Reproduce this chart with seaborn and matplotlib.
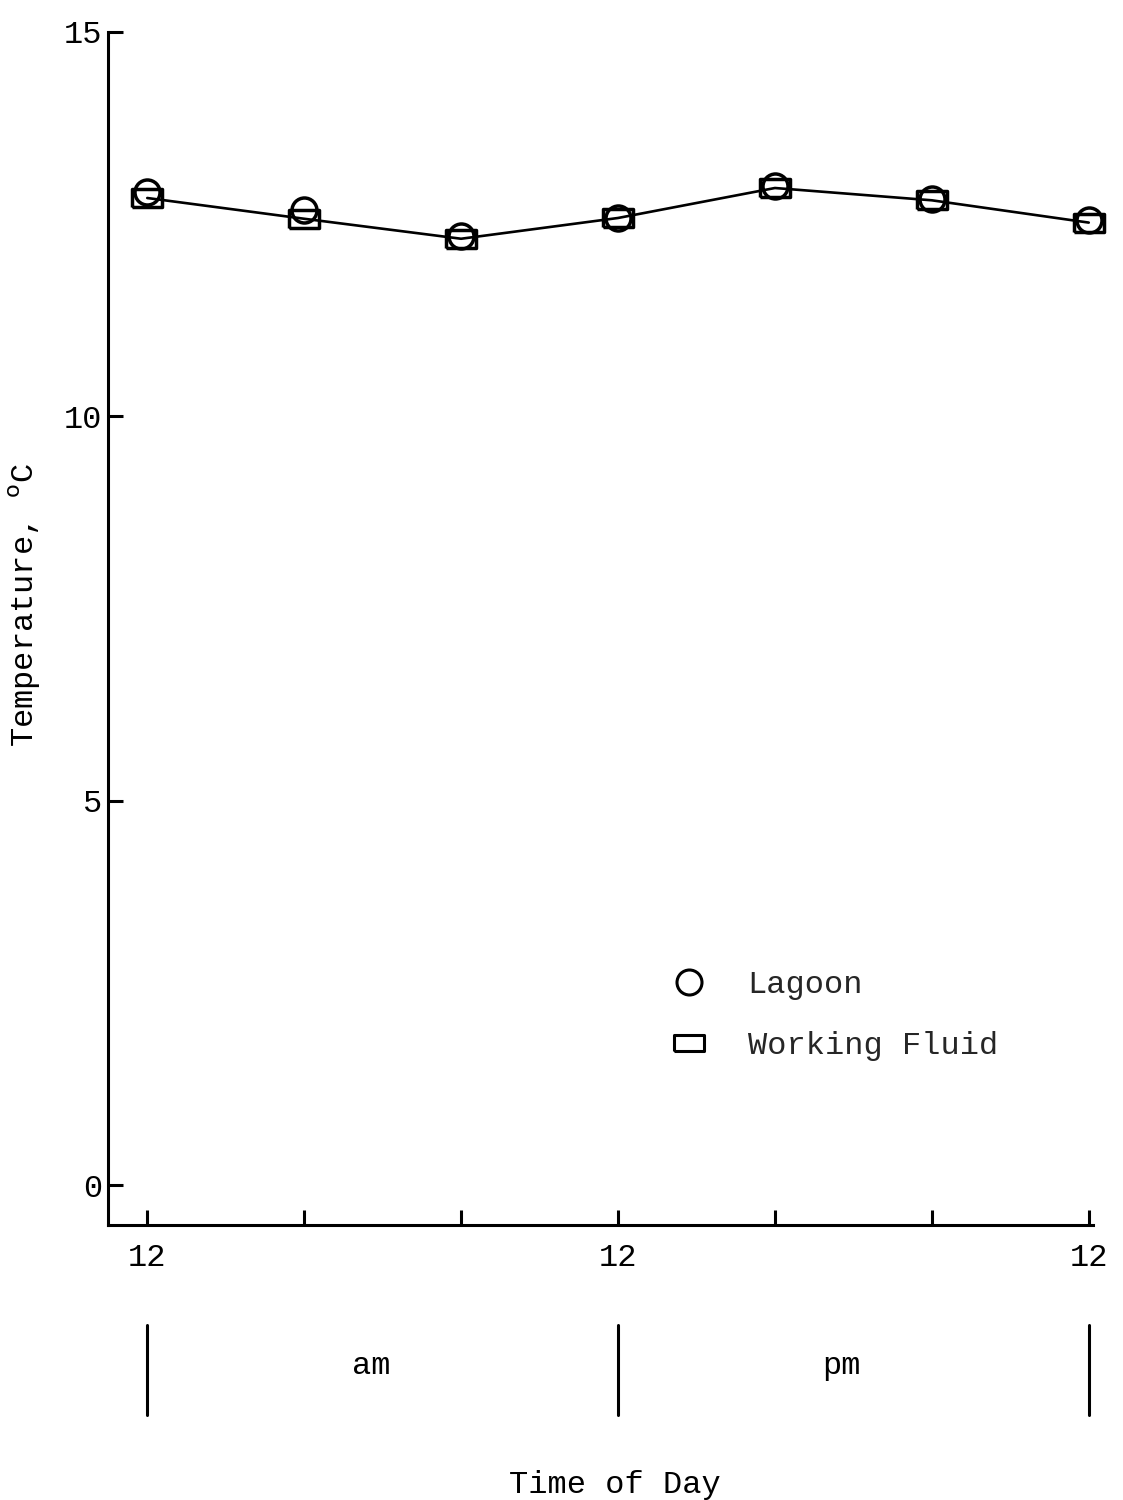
import matplotlib
matplotlib.use("Agg")
import matplotlib.pyplot as plt
import matplotlib.transforms as mtransforms
import seaborn as sns
import pandas as pd
import numpy as np

# Data (hours after midnight)
hours = [0, 4, 8, 12, 16, 20, 24]
lagoon = [12.92, 12.69, 12.34, 12.58, 12.99, 12.83, 12.56]
working_fluid = [12.84, 12.57, 12.31, 12.58, 12.97, 12.81, 12.52]
x_ticks = [0, 4, 8, 12, 16, 20, 24]
x_ticklabels = ["12", "", "", "12", "", "", "12"]
y_ticks = [0, 5, 10, 15]
period_edges = [0, 12, 24]
period_names = ["am", "pm"]

df = pd.DataFrame({"hour": hours, "Lagoon": lagoon, "Working Fluid": working_fluid})

# Style
sns.set_style("ticks")
plt.rcParams["font.family"] = ["Liberation Mono", "DejaVu Sans"]
fs = 23
ink = "black"

fig = plt.figure(figsize=(11.23, 15), dpi=100, facecolor="white")
ax = fig.add_axes([0.0962, 0.1833, 0.8768, 0.7954])

# wide rectangle marker
rect = [(-1.0, -0.62), (1.0, -0.62), (1.0, 0.62), (-1.0, 0.62), (-1.0, -0.62)]

sns.lineplot(data=df, x="hour", y="Working Fluid", color=ink, lw=1.9, ax=ax)
sns.lineplot(data=df, x="hour", y="Working Fluid", ax=ax, linestyle="none",
             marker=rect, markersize=21, markerfacecolor="none",
             markeredgecolor=ink, markeredgewidth=2.5, clip_on=False)
sns.lineplot(data=df, x="hour", y="Lagoon", ax=ax, linestyle="none",
             marker="o", markersize=18, markerfacecolor="none",
             markeredgecolor=ink, markeredgewidth=2.5, clip_on=False)

ax.set_xlim(-1.0, 24.1)
ax.set_ylim(-0.52, 15)
ax.set_xticks(x_ticks)
ax.set_xticklabels(x_ticklabels)
ax.set_yticks(y_ticks)
ax.set_yticklabels([str(v) for v in y_ticks])

ax.tick_params(axis="x", direction="in", length=11, width=2.2, labelsize=fs, pad=13, colors=ink)
ax.tick_params(axis="y", direction="in", length=11, width=2.2, labelsize=fs, pad=4, colors=ink)

for s in ["top", "right"]:
    ax.spines[s].set_visible(False)
for s in ["left", "bottom"]:
    ax.spines[s].set_linewidth(2.2)
    ax.spines[s].set_color(ink)

ax.set_xlabel("Time of Day", fontsize=fs, color=ink)
ax.xaxis.set_label_coords(0.515, -0.205)
ax.set_ylabel("Temperature, $^{\\mathrm{o}}$C", fontsize=fs, color=ink)
ax.yaxis.set_label_coords(-0.066, 0.52)

# am / pm brackets below the axis
trans = mtransforms.blended_transform_factory(ax.transData, ax.transAxes)
for e in period_edges:
    ax.plot([e, e], [-0.084, -0.159], color=ink, lw=2.2, transform=trans, clip_on=False)
for i, name in enumerate(period_names):
    mid = (period_edges[i] + period_edges[i + 1]) / 2
    ax.text(mid - 0.3, -0.118, name, transform=trans, ha="center", va="center",
            fontsize=fs, color=ink)

# Legend
h_circ = plt.Line2D([], [], linestyle="none", marker="o", markersize=18,
                    markerfacecolor="none", markeredgecolor=ink, markeredgewidth=2.2)
h_rect = plt.Line2D([], [], linestyle="none", marker=[(-1, -0.5), (1, -0.5), (1, 0.5), (-1, 0.5), (-1, -0.5)],
                    markersize=22, markerfacecolor="none", markeredgecolor=ink, markeredgewidth=2.2)
ax.legend([h_circ, h_rect], ["Lagoon", "Working Fluid"], loc="upper left",
          bbox_to_anchor=(0.599, 0.353), bbox_transform=fig.transFigure,
          frameon=False, fontsize=fs, handlelength=1.0, handletextpad=1.35,
          labelspacing=0.95, borderpad=0, borderaxespad=0)

fig.savefig("out.png", dpi=100, facecolor="white")
